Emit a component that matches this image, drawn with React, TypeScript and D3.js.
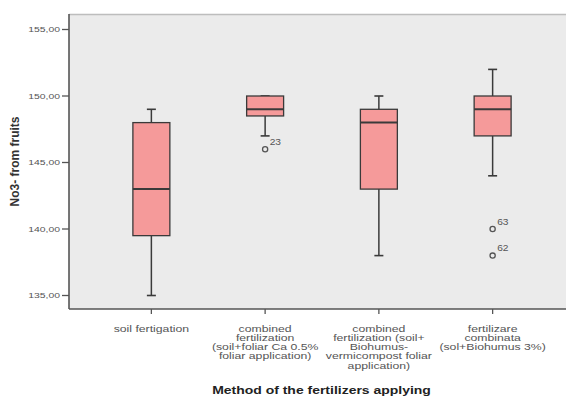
import React from 'react';
import * as d3 from 'd3';

// SPSS-style boxplot: NO3- content in fruits by fertilizer application method.

const W = 566;
const H = 397;
const PLOT = { left: 69, top: 14, right: 566, bottom: 309 };

const categories = ['soil', 'combCa', 'combBio', 'combinata'];
const categoryLines = [
  ['soil fertigation'],
  ['combined', 'fertilization', '(soil+foliar Ca 0.5%', 'foliar application)'],
  ['combined', 'fertilization  (soil+', 'Biohumus-', 'vermicompost foliar', 'application)'],
  ['fertilizare', 'combinata', '(sol+Biohumus 3%)'],
];
const whiskerLow = [135, 147, 138, 144];
const q1 = [139.5, 148.5, 143, 147];
const median = [143, 149, 148, 149];
const q3 = [148, 150, 149, 150];
const whiskerHigh = [149, 150, 150, 152];
const outliers = [
  [] as { v: number; id: string }[],
  [{ v: 146, id: '23' }],
  [],
  [{ v: 140, id: '63' }, { v: 138, id: '62' }],
];
const yTicks = [135, 140, 145, 150, 155];

const y = d3.scaleLinear().domain([135, 155]).range([295.5, 29.5]);
const x = d3.scaleBand<string>().domain(categories).range([94.5, 549.5]).padding(0);
const fmt = (v: number) => d3.format('.2f')(v).replace('.', ',');

const FILL = '#f59a9a';
const INK = '#3a3a3a';
const TEXT = '#555';

export default function App() {
  const boxW = x.bandwidth() * 0.325;
  const capW = 9;
  return (
    <svg width={W} height={H} style={{ position: 'fixed', left: 0, top: 0, background: '#fff' }}
      fontFamily="'Liberation Sans', Arial, sans-serif">
      <rect x={PLOT.left} y={PLOT.top} width={PLOT.right - PLOT.left} height={PLOT.bottom - PLOT.top}
        fill="#ebebeb" />
      <line x1={PLOT.left} x2={PLOT.right} y1={PLOT.top + 0.5} y2={PLOT.top + 0.5} stroke="#bdbdbd" strokeWidth={1.5} />

      {categories.map((c, i) => {
        const cx = x(c)! + x.bandwidth() / 2;
        return (
          <g key={c}>
            <line x1={cx} x2={cx} y1={y(whiskerHigh[i])} y2={y(q3[i])} stroke={INK} strokeWidth={1.5} />
            <line x1={cx} x2={cx} y1={y(q1[i])} y2={y(whiskerLow[i])} stroke={INK} strokeWidth={1.5} />
            <line x1={cx - capW / 2} x2={cx + capW / 2} y1={y(whiskerHigh[i])} y2={y(whiskerHigh[i])} stroke={INK} strokeWidth={1.6} />
            <line x1={cx - capW / 2} x2={cx + capW / 2} y1={y(whiskerLow[i])} y2={y(whiskerLow[i])} stroke={INK} strokeWidth={1.6} />
            <rect x={cx - boxW / 2} y={y(q3[i])} width={boxW} height={y(q1[i]) - y(q3[i])}
              fill={FILL} stroke={INK} strokeWidth={1.3} />
            <line x1={cx - boxW / 2} x2={cx + boxW / 2} y1={y(median[i])} y2={y(median[i])} stroke={INK} strokeWidth={2} />
            {outliers[i].map(o => (
              <g key={o.id}>
                <circle cx={cx} cy={y(o.v)} r={2.6} fill="none" stroke="#555" strokeWidth={1.3} />
                <g transform={`translate(${cx + 4.5},${y(o.v) - 4.5}) scale(1.2,1)`}>
                  <text fontSize={8.5} fill={TEXT}>{o.id}</text>
                </g>
              </g>
            ))}
          </g>
        );
      })}

      {/* y axis */}
      <line x1={PLOT.left} x2={PLOT.left} y1={PLOT.top} y2={PLOT.bottom} stroke="#555" strokeWidth={1.6} />
      {yTicks.map(t => (
        <g key={t}>
          <line x1={62} x2={PLOT.left} y1={y(t)} y2={y(t)} stroke="#555" strokeWidth={1.3} />
          <g transform={`translate(60,${y(t)}) scale(1.3,1)`}>
            <text textAnchor="end" dy="0.35em" fontSize={8} fill={TEXT}>{fmt(t)}</text>
          </g>
        </g>
      ))}
      <text transform="translate(18.5,161.5) rotate(-90)" textAnchor="middle" fontSize={12}
        fontWeight="bold" fill="#333">No3- from fruits</text>

      {/* x axis */}
      <line x1={PLOT.left} x2={PLOT.right} y1={PLOT.bottom} y2={PLOT.bottom} stroke="#555" strokeWidth={1.6} />
      {categories.map((c, i) => {
        const cx = x(c)! + x.bandwidth() / 2;
        return (
          <g key={c}>
            <line x1={cx} x2={cx} y1={PLOT.bottom} y2={PLOT.bottom + 5} stroke="#555" strokeWidth={1.3} />
            {categoryLines[i].map((ln, k) => (
              <g key={k} transform={`translate(${cx},${331.5 + k * 9.3}) scale(1.25,1)`}>
                <text textAnchor="middle" fontSize={9.8} fill={TEXT}>{ln}</text>
              </g>
            ))}
          </g>
        );
      })}
      <g transform="translate(321.5,394) scale(1.27,1)">
        <text textAnchor="middle" fontSize={11} fontWeight="bold" fill="#222">Method of the fertilizers applying</text>
      </g>
    </svg>
  );
}
